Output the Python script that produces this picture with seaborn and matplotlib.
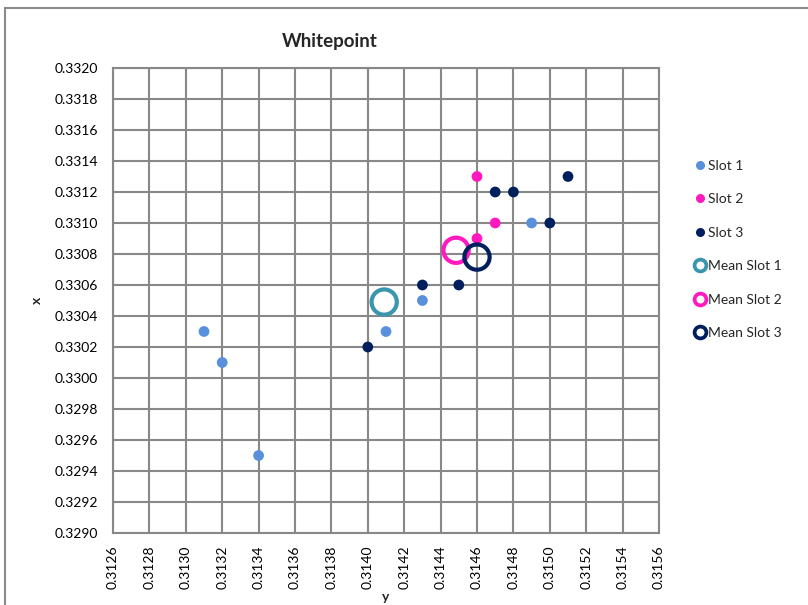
import matplotlib
matplotlib.use("Agg")
import matplotlib.pyplot as plt
import seaborn as sns
import pandas as pd
from matplotlib.patches import Rectangle
from matplotlib.lines import Line2D
from matplotlib.ticker import MultipleLocator, FormatStrFormatter

sns.set_style("white")
plt.rcParams['font.family'] = ['Lato', 'DejaVu Sans']

slot1_y = [0.3131, 0.3132, 0.3134, 0.3141, 0.3143, 0.3149]
slot1_x = [0.3303, 0.3301, 0.3295, 0.3303, 0.3305, 0.3310]
slot2_y = [0.3146, 0.3147, 0.3146]
slot2_x = [0.3313, 0.3310, 0.3309]
slot3_y = [0.3140, 0.3143, 0.3145, 0.3147, 0.3148, 0.3150, 0.3151]
slot3_x = [0.3302, 0.3306, 0.3306, 0.3312, 0.3312, 0.3310, 0.3313]
mean_names = ["Mean Slot 1", "Mean Slot 2", "Mean Slot 3"]
mean_y = [0.31409, 0.314485, 0.31460]
mean_x = [0.33049, 0.330824, 0.33078]

c1, c2, c3 = "#5890DC", "#FF1ABF", "#001F5C"
cm = ["#3A96AC", "#FF1ABF", "#001F5C"]

fig = plt.figure(figsize=(8.08, 6.05), dpi=100)
ax = fig.add_axes([113/808, 1-533/605, (659-113)/808, (533-68)/605])

fig.patches.append(Rectangle((5/808, -0.1), 1.2, 1-8/605+0.1, transform=fig.transFigure,
                             fill=False, edgecolor="#8a8a8a", linewidth=1.5))

df = pd.concat([
    pd.DataFrame({"y": slot1_y, "x": slot1_x, "s": "Slot 1"}),
    pd.DataFrame({"y": slot2_y, "x": slot2_x, "s": "Slot 2"}),
    pd.DataFrame({"y": slot3_y, "x": slot3_x, "s": "Slot 3"}),
])
sns.scatterplot(data=df, x="y", y="x", hue="s", palette=[c1, c2, c3], s=60,
                edgecolor="none", ax=ax, zorder=3, legend=False)
dm = pd.DataFrame({"y": mean_y, "x": mean_x, "s": mean_names})
for i, n in enumerate(mean_names):
    sub = dm[dm.s == n]
    sns.scatterplot(data=sub, x="y", y="x", s=330, facecolor="none",
                    edgecolor=cm[i], linewidth=3, ax=ax, zorder=4, legend=False)

ax.set_xlim(0.3126, 0.3156)
ax.set_ylim(0.3290, 0.3320)
ax.xaxis.set_major_locator(MultipleLocator(0.0002))
ax.yaxis.set_major_locator(MultipleLocator(0.0002))
ax.xaxis.set_major_formatter(FormatStrFormatter("%.4f"))
ax.yaxis.set_major_formatter(FormatStrFormatter("%.4f"))
ax.grid(True, color="#888888", linewidth=1.5)
ax.set_axisbelow(True)
for sp in ax.spines.values():
    sp.set_color("#888888")
    sp.set_linewidth(1.5)
ax.tick_params(axis="both", which="major", length=5, width=1.5, color="#888888",
               labelsize=10, labelcolor="black", direction="out", pad=6)
ax.tick_params(axis="x", labelrotation=90, pad=4)
ax.set_xlabel("y", fontsize=10, fontweight="bold", labelpad=1)
ax.set_ylabel("x", fontsize=10, fontweight="bold", labelpad=8, rotation=90)
fig.text(330/808, 1-42/605, "Whitepoint", fontsize=13.5, fontweight="bold",
         ha="center", va="center")

handles = [
    Line2D([], [], marker="o", linestyle="", markersize=6.5, color=c1, markeredgecolor="none"),
    Line2D([], [], marker="o", linestyle="", markersize=6.5, color=c2, markeredgecolor="none"),
    Line2D([], [], marker="o", linestyle="", markersize=6.5, color=c3, markeredgecolor="none"),
]
for c in cm:
    handles.append(Line2D([], [], marker="o", linestyle="", markersize=8.5,
                          markerfacecolor="none", markeredgecolor=c, markeredgewidth=2.7))
fig.legend(handles, ["Slot 1", "Slot 2", "Slot 3"] + mean_names,
           loc="upper left", bbox_to_anchor=(686/808, 1-154/605), frameon=False,
           fontsize=10, handletextpad=0.0, labelspacing=1.55, handlelength=1.2,
           borderaxespad=0)

fig.savefig("out.png", dpi=100)
